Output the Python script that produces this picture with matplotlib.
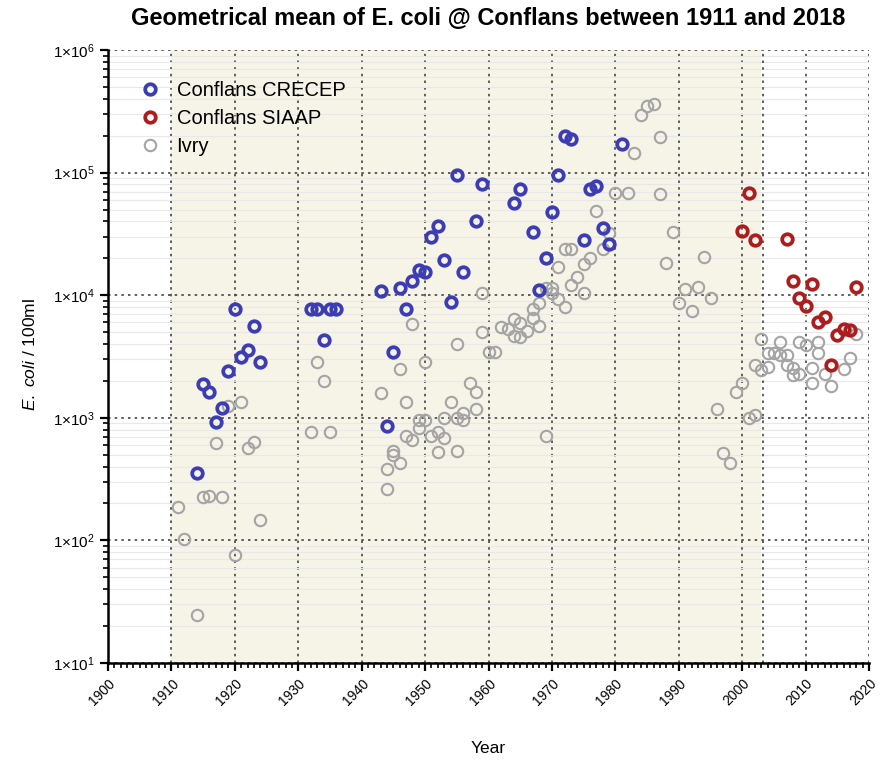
import matplotlib
matplotlib.use('Agg')
import matplotlib.pyplot as plt
import matplotlib.ticker as mticker
import numpy as np

plt.rcParams['font.family'] = ['Liberation Sans', 'DejaVu Sans']
plt.rcParams['mathtext.fontset'] = 'custom'
plt.rcParams['mathtext.rm'] = 'Liberation Sans'
plt.rcParams['mathtext.it'] = 'Liberation Sans:italic'

# Conflans CRECEP
crecep_years = [1914, 1915, 1916, 1917, 1918, 1919, 1920, 1921, 1922, 1923, 1924,
                1932, 1933, 1934, 1935, 1936,
                1943, 1944, 1945, 1946, 1947, 1948, 1949, 1950, 1951, 1952, 1953,
                1954, 1955, 1956, 1958, 1959, 1964, 1965, 1967, 1968, 1969, 1970,
                1971, 1972, 1973, 1975, 1976, 1977, 1978, 1979, 1981]
crecep_vals = [355, 1880, 1630, 920, 1200, 2420, 7700, 3150, 3580, 5600, 2850,
               7700, 7700, 4300, 7700, 7700,
               10900, 860, 3420, 11400, 7700, 13000, 16000, 15400, 30000, 36700, 19400,
               8750, 95600, 15400, 40500, 80700, 56800, 73100, 32600, 11000, 20000, 48000,
               95600, 200000, 187000, 28200, 73100, 78200, 35500, 26200, 170000]

# Conflans SIAAP
siaap_years = [2000, 2001, 2002, 2007, 2008, 2009, 2010, 2011, 2012, 2013,
               2014, 2015, 2016, 2017, 2018]
siaap_vals = [33600, 67800, 28200, 28600, 13100, 9440, 8160, 12300, 6080, 6600,
              2700, 4730, 5270, 5200, 11600]

# Ivry
ivry_years = [1911, 1912, 1914, 1915, 1916, 1917, 1918, 1919, 1920, 1921, 1922, 1923, 1924,
              1932, 1933, 1934, 1935,
              1943, 1944, 1944, 1945, 1945, 1946, 1946, 1947, 1947, 1948, 1948,
              1949, 1949, 1950, 1950, 1951, 1952, 1952, 1953, 1953, 1954,
              1955, 1955, 1955, 1956, 1956, 1957, 1958, 1958, 1959, 1959,
              1960, 1961, 1962, 1963, 1964, 1964, 1965, 1965, 1966, 1967, 1967,
              1968, 1968, 1969, 1969, 1970, 1970, 1971, 1971, 1972, 1972,
              1973, 1973, 1974, 1975, 1975, 1976, 1977, 1978, 1979, 1980,
              1982, 1983, 1984, 1985, 1986, 1987, 1987, 1988, 1989, 1990,
              1991, 1992, 1993, 1994, 1995, 1996, 1997, 1998, 1999, 2000,
              2001, 2002, 2002, 2003, 2003, 2004, 2004, 2005, 2006, 2006,
              2007, 2007, 2008, 2008, 2009, 2009, 2010, 2011, 2011, 2012, 2012,
              2013, 2014, 2016, 2017, 2018]
ivry_vals = [188, 103, 24.5, 225, 230, 620, 225, 1255, 76, 1350, 564, 638, 147,
             762, 2850, 1995, 762,
             1585, 380, 262, 536, 497, 2500, 425, 1337, 714, 5820, 659,
             960, 830, 2840, 960, 714, 771, 523, 990, 688, 1353,
             4000, 990, 540, 1100, 960, 1933, 1615, 1180, 10360, 5040,
             3460, 3460, 5470, 5270, 6360, 4650, 5970, 4600, 5130, 6480, 7680,
             5610, 8590, 11400, 714, 11400, 10360, 17100, 9270, 8060, 23700,
             23700, 12100, 14150, 10480, 17960, 20000, 48900, 23700, 32000, 67800,
             68500, 145000, 295000, 349000, 363000, 194000, 66900, 18400, 33000, 8690,
             11200, 7480, 11600, 20400, 9540, 1180, 513, 430, 1634, 1910,
             1000, 1054, 2700, 2455, 4370, 3360, 2610, 3360, 4180, 3250,
             3250, 2700, 2530, 2235, 2270, 4180, 3925, 2530, 1910, 4180, 3360,
             2270, 1817, 2490, 3060, 4830]

fig = plt.figure(figsize=(8.8, 7.61), dpi=100)
ax = fig.add_axes([0.1227, 0.1288, 0.865, 0.8055])

ax.axvspan(1910, 2003, color='#f6f3e7', zorder=0, lw=0)
ax.axvline(2003.2, color='#444444', ls=(0, (1.5, 2.5)), lw=1.2, zorder=1)

ax.plot(ivry_years, ivry_vals, 'o', ls='none', mfc='none', mec='#a4a4a4',
        ms=8.2, mew=1.5, label='Ivry', zorder=3)
ax.plot(crecep_years, crecep_vals, 'o', ls='none', mfc='none', mec='#3c3cb4',
        ms=7.6, mew=2.7, label='Conflans CRECEP', zorder=4)
ax.plot(siaap_years, siaap_vals, 'o', ls='none', mfc='none', mec='#ad1d1d',
        ms=7.6, mew=2.7, label='Conflans SIAAP', zorder=5)

ax.set_yscale('log')
ax.set_xlim(1900, 2020)
ax.set_ylim(10, 1e6)
ax.set_xticks(np.arange(1900, 2021, 10))
ax.xaxis.set_minor_locator(mticker.MultipleLocator(1))
ax.yaxis.set_major_locator(mticker.LogLocator(base=10, numticks=10))
ax.yaxis.set_minor_locator(mticker.LogLocator(base=10, subs=np.arange(2, 10), numticks=20))
ax.yaxis.set_minor_formatter(mticker.NullFormatter())
ax.yaxis.set_major_formatter(mticker.FuncFormatter(
    lambda v, p: '1\u00d710$^{%d}$' % round(np.log10(v))))
ax.set_xticklabels([str(y) for y in range(1900, 2021, 10)], rotation=45,
                   ha='right', va='top', rotation_mode='anchor')

ax.grid(True, which='major', color='#444444', ls=(0, (1.5, 2.5)), lw=1.2)
ax.grid(True, which='minor', axis='y', color='#e8e8e8', ls='-', lw=0.8)
ax.set_axisbelow(True)

for s in ['top', 'right']:
    ax.spines[s].set_visible(False)
for s in ['left', 'bottom']:
    ax.spines[s].set_linewidth(1.8)
ax.tick_params(which='major', direction='out', length=6, width=1.6, labelsize=11)
ax.tick_params(axis='x', which='major', labelsize=10)
ax.tick_params(which='minor', direction='out', length=3.5, width=1.2)

handles, labels = ax.get_legend_handles_labels()
order = [1, 2, 0]
ax.legend([handles[i] for i in order], [labels[i] for i in order],
          loc='upper left', bbox_to_anchor=(0.016, 0.979), frameon=False,
          fontsize=14.5, handletextpad=0.7, labelspacing=0.45, handlelength=1.2)

fig.text(0.555, 0.976, 'Geometrical mean of E. coli @ Conflans between 1911 and 2018',
         ha='center', va='center', fontsize=17, fontweight='bold')
fig.text(0.555, 0.017, 'Year', ha='center', va='center', fontsize=12.5)
fig.text(0.034, 0.5335, r'$\mathit{E.\ coli}$ / 100ml', ha='center', va='center',
         rotation=90, fontsize=12.5)

plt.savefig('out.png', dpi=100)
plt.close()
